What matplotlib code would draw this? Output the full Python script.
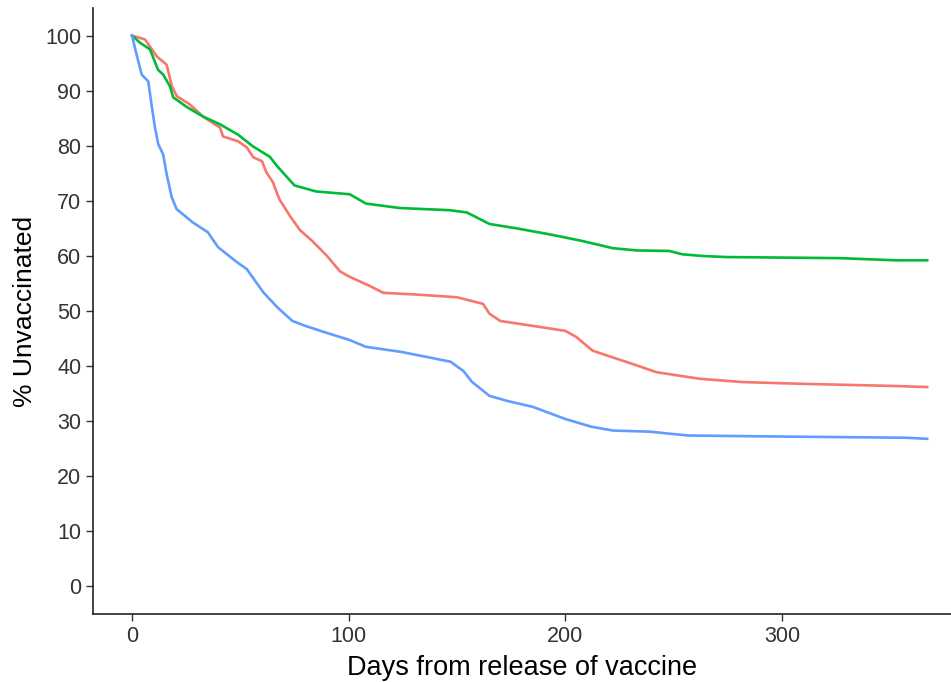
import matplotlib.pyplot as plt

plt.rcParams['font.family'] = ['Liberation Sans', 'DejaVu Sans']

# values (days, % unvaccinated)
blue_days = [0, 2.2, 4.5, 7.5, 9, 10.6, 12.1, 14.4, 16, 18.3, 20.6, 28, 35, 39.7, 48, 53,
             60.6, 67, 74, 80, 87, 95, 100, 108, 124, 133, 147, 153, 157, 165, 173, 185, 200,
             212, 222, 239, 249, 257, 303, 357, 367]
blue_vals = [100, 96.4, 92.9, 91.7, 87.5, 83.3, 80.3, 78.4, 74.8, 70.7, 68.5, 66.1,
             64.3, 61.6, 59, 57.6, 53.4, 50.7, 48.2, 47.3, 46.4, 45.4, 44.8, 43.5, 42.6, 41.9,
             40.8, 39.1, 37.1, 34.6, 33.7, 32.6, 30.4, 29, 28.3, 28.1, 27.7, 27.4, 27.2, 27, 26.8]

red_days = [0, 6, 11.5, 16, 18.4, 20.7, 26.7, 32.8, 40.6, 42, 49, 53, 56, 60, 62,
            65, 68, 73, 77.5, 83.5, 90, 96, 100, 105, 110, 116, 131, 150, 162, 165, 170, 185,
            200, 205, 212.6, 224, 231, 242, 262, 282, 308, 351, 367]
red_vals = [100, 99.3, 96.2, 94.7, 90.8, 89, 87.5, 85.3, 83.3, 81.7, 80.8, 79.7,
            77.9, 77.2, 75.2, 73.4, 70.3, 67.2, 64.7, 62.6, 60, 57.2, 56.3, 55.4, 54.5, 53.3,
            53, 52.5, 51.3, 49.5, 48.2, 47.3, 46.4, 45.3, 42.8, 41.3, 40.4, 38.9, 37.7, 37.1,
            36.8, 36.4, 36.2]

green_days = [0, 3.7, 8.3, 9.8, 12, 14.4, 17.5, 19, 25, 32.8, 40.6, 49, 55.8, 63.6, 67,
              75, 85, 100.5, 108, 123.6, 146.7, 154.5, 165, 177.6, 193, 208, 222, 233, 248,
              254, 263, 274, 326.6, 353, 367]
green_vals = [100, 98.7, 97.5, 96, 93.8, 92.9, 90.8, 88.8, 87.1, 85.3, 83.9, 82, 79.9, 78,
              76.3, 72.8, 71.7, 71.2, 69.5, 68.7, 68.3, 67.9, 65.8, 65, 63.9, 62.7, 61.4, 61,
              60.9, 60.3, 60, 59.8, 59.6, 59.2, 59.2]

fig = plt.figure(figsize=(9.51, 6.82), dpi=100)
ax = fig.add_axes([0.0978, 0.0997, 0.9022, 0.8885])

ax.plot(red_days, red_vals, color='#F8766D', lw=1.9)
ax.plot(green_days, green_vals, color='#00BA38', lw=1.9)
ax.plot(blue_days, blue_vals, color='#619CFF', lw=1.9)

ax.set_xlim(-18, 378)
ax.set_ylim(-5, 105)
ax.set_xticks([0, 100, 200, 300])
ax.set_yticks(range(0, 101, 10))
ax.tick_params(labelsize=15.5, labelcolor='#333333', color='#333333', length=5, width=1)
ax.spines['top'].set_visible(False)
ax.spines['right'].set_visible(False)
for s in ['left', 'bottom']:
    ax.spines[s].set_linewidth(1.2)
    ax.spines[s].set_color('#222222')

ax.set_xlabel('Days from release of vaccine', fontsize=19.5, labelpad=6)
ax.set_ylabel('% Unvaccinated', fontsize=19, labelpad=6)

fig.savefig('out.png')
